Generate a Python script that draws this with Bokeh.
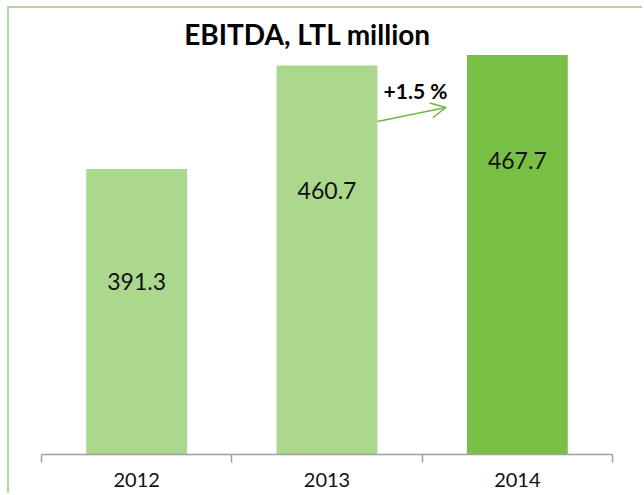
from bokeh.plotting import figure
from bokeh.models import Range1d, FixedTicker, Label, Arrow, OpenHead, ColumnDataSource
from bokeh.core.properties import value
from bokeh.embed import file_html
from bokeh.resources import INLINE

years = ["2012", "2013", "2014"]
ebitda = [391.3, 460.7, 467.7]
bar_colors = ["#acd88e", "#acd88e", "#78c044"]
growth_label = "+1.5 %"
title_text = "EBITDA, LTL million"

FONT = "Lato"
BAR_W = 0.53
label_drop_px = [112, 125, 105]

xs = [i + 0.5 for i in range(len(years))]
src = ColumnDataSource(dict(x=xs, top=ebitda, color=bar_colors,
                            label=[f"{v:.1f}" for v in ebitda],
                            drop=label_drop_px))

p = figure(width=635, height=487, output_backend="svg", toolbar_location=None,
           x_range=Range1d(0, len(years)), y_range=Range1d(200, 498.9),
           y_axis_location=None, min_border_left=32, min_border_right=32,
           min_border_top=0, min_border_bottom=41)
p.styles = {"margin-left": "7px", "margin-top": "6px",
            "border-left": "2px solid #b3dc98", "border-top": "2px solid #b3dc98"}
p.outline_line_color = None
p.xgrid.visible = False
p.ygrid.visible = False
p.background_fill_color = "white"
p.border_fill_color = "white"

p.vbar(x="x", top="top", bottom=200, width=BAR_W, color="color", line_color=None, source=src)
p.text(x="x", y="top", text="label", y_offset="drop", text_align="center",
       text_baseline="middle", text_font=value(FONT), text_font_size="23px",
       text_color="#111111", source=src)

ax = p.xaxis[0]
ax.ticker = FixedTicker(ticks=xs, minor_ticks=list(range(len(years) + 1)))
ax.major_label_overrides = {x: y for x, y in zip(xs, years)}
ax.major_tick_line_color = None
ax.major_tick_out = 0
ax.major_tick_in = 0
ax.minor_tick_out = 8
ax.minor_tick_in = 0
ax.minor_tick_line_color = "#a0a0a0"
ax.minor_tick_line_width = 1.5
ax.axis_line_color = "#a0a0a0"
ax.axis_line_width = 1.5
ax.major_label_text_font = FONT
ax.major_label_text_font_size = "20px"
ax.major_label_text_color = "#111111"
ax.major_label_standoff = 10

# growth arrow from 2013 bar edge toward 2014
x0 = xs[1] + BAR_W / 2
p.add_layout(Arrow(end=OpenHead(size=15, line_color="#70b83e", line_width=1.5),
                   x_start=x0, y_start=423.2, x_end=x0 + 0.36, y_end=432.6,
                   line_color="#70b83e", line_width=1.5))
p.add_layout(Label(x=(xs[1] + xs[2]) / 2 - 0.035, y=444, text=growth_label,
                   text_align="center", text_baseline="middle",
                   text_font=FONT, text_font_style="bold", text_font_size="21px",
                   text_color="#000000"))

p.add_layout(Label(x=1.398, y=481.5, text=title_text,
                   text_align="center", text_baseline="middle",
                   text_font=FONT, text_font_style="bold", text_font_size="28px",
                   text_color="#000000"))

open("out.html", "w").write(file_html(p, INLINE))
